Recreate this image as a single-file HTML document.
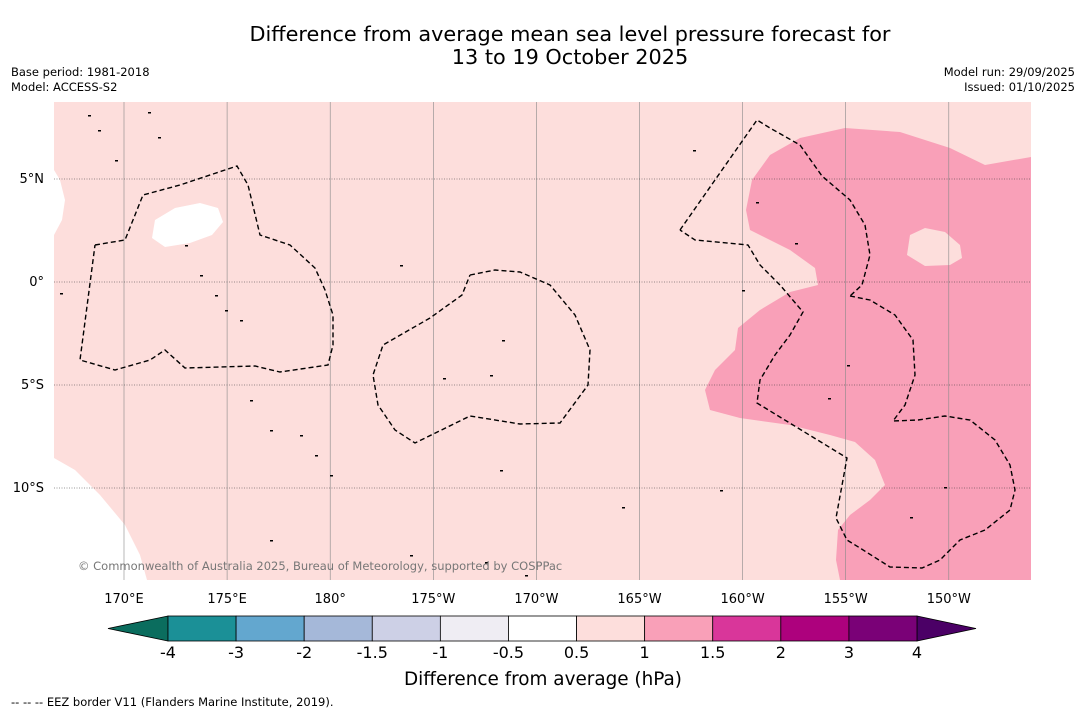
<!DOCTYPE html>
<html><head><meta charset="utf-8">
<style>
html,body{margin:0;padding:0;background:#fff;width:1085px;height:713px;overflow:hidden;font-family:"DejaVu Sans","Liberation Sans",sans-serif;}
svg{display:block}
</style></head>
<body>
<svg id="chart" width="1085" height="713" xmlns="http://www.w3.org/2000/svg" font-family="DejaVu Sans, Liberation Sans, sans-serif">
<text x="570" y="41" font-size="20.8" text-anchor="middle">Difference from average mean sea level pressure forecast for</text>
<text x="570" y="64" font-size="20.8" text-anchor="middle">13 to 19 October 2025</text>
<text x="11" y="76" font-size="11.5">Base period: 1981-2018</text>
<text x="11" y="91" font-size="11.5">Model: ACCESS-S2</text>
<text x="1075" y="76" font-size="11.5" text-anchor="end">Model run: 29/09/2025</text>
<text x="1075" y="91" font-size="11.5" text-anchor="end">Issued: 01/10/2025</text>
<g id="map"></g>
<g id="cbar"></g>
<text x="543" y="685" font-size="18.4" text-anchor="middle">Difference from average (hPa)</text>
<text x="11" y="706" font-size="11.5">--  --  -- EEZ border V11 (Flanders Marine Institute, 2019).</text>
</svg>
<script>
const lonTicks=[170,175,180,185,190,195,200,205,210];
const lonLabels=["170°E","175°E","180°","175°W","170°W","165°W","160°W","155°W","150°W"];
const latTicks=[5,0,-5,-10];
const latLabels=["5°N","0°","5°S","10°S"];
const levels=["-4","-3","-2","-1.5","-1","-0.5","0.5","1","1.5","2","3","4"];
const levelColors=["#1b9097","#63a7cf","#a5b8d9","#cdd0e6","#efedf3","#ffffff","#fddedc","#f9a0b8","#d9369a","#ad017d","#7a0177"];
const extLow="#0b6d5e", extHigh="#4b0066";
const MAP={x0:54,x1:1031,y0:102,y1:580};
const X=lon=>124+(lon-170)*20.62;
const Y=lat=>282-lat*20.6;
const PX=p=>170+(p-124)/20.62, PY=p=>(282-p)/20.6;
const toLL=a=>a.map(([x,y])=>[PX(x),PY(y)]);
const pinkRegion=toLL([[1031,157],[985,165],[950,148],[900,132],[845,128],[800,138],[770,155],[752,180],[746,210],[750,230],[790,250],[815,268],[818,285],[790,292],[760,310],[738,328],[735,350],[715,370],[705,390],[710,410],[740,418],[790,425],[830,435],[855,442],[875,460],[885,485],[870,500],[850,515],[838,530],[836,560],[840,580],[1031,580]]);
const lightBlob=toLL([[910,235],[925,228],[945,232],[960,245],[962,258],[950,265],[925,266],[907,255]]);
const whiteRegions=[toLL([[54,170],[60,180],[65,200],[62,220],[54,235]]),toLL([[155,220],[175,208],[200,203],[218,208],[223,222],[212,235],[190,243],[165,247],[152,238]]),toLL([[54,458],[75,470],[100,495],[125,525],[140,555],[147,580],[54,580]])];
const eez=[toLL([[95,245],[125,240],[143,195],[180,185],[237,166],[248,185],[260,235],[290,245],[315,268],[325,290],[333,315],[333,345],[328,365],[280,372],[255,366],[185,368],[165,350],[150,360],[115,370],[80,360],[95,245]]),
toLL([[470,275],[495,270],[520,272],[550,285],[575,315],[590,350],[588,385],[560,423],[520,424],[470,416],[415,443],[395,430],[378,405],[373,375],[383,345],[430,318],[462,295],[470,275]]),
toLL([[680,230],[757,120],[770,128],[800,145],[822,176],[850,200],[865,225],[870,255],[862,285],[850,296]]),
toLL([[850,296],[870,300],[895,315],[913,340],[915,375],[905,405],[893,421],[918,420],[945,416],[970,420],[995,440],[1010,465],[1015,490],[1010,510],[985,530],[960,540],[940,560],[922,568],[890,567],[860,548],[847,540],[836,518],[847,458],[757,403],[760,380],[775,355],[790,335],[803,312],[780,285],[760,265],[748,245],[695,240],[680,230]])];
const islands=toLL([[88,115],[98,130],[148,112],[158,137],[115,160],[185,245],[200,275],[215,295],[225,310],[240,320],[250,400],[270,430],[300,435],[315,455],[330,475],[400,265],[443,378],[490,375],[502,340],[500,470],[622,507],[693,150],[720,490],[742,290],[756,202],[795,243],[828,398],[847,365],[944,487],[910,517],[60,293],[270,540],[410,555],[485,562],[525,575]]);
const NS="http://www.w3.org/2000/svg";
function mk(tag,attrs,parent){const e=document.createElementNS(NS,tag);for(const k in attrs)e.setAttribute(k,attrs[k]);parent.appendChild(e);return e;}
const map=document.getElementById('map');
const defs=mk('defs',{},map);const cp=mk('clipPath',{id:'clip'},defs);mk('rect',{x:MAP.x0,y:MAP.y0,width:MAP.x1-MAP.x0,height:MAP.y1-MAP.y0},cp);
const g=mk('g',{'clip-path':'url(#clip)'},map);
const pathOf=pts=>'M'+pts.map(p=>X(p[0]).toFixed(1)+','+Y(p[1]).toFixed(1)).join('L')+'Z';
let e=mk('rect',{x:MAP.x0,y:MAP.y0,width:MAP.x1-MAP.x0,height:MAP.y1-MAP.y0,fill:levelColors[6]},g);

e=mk('path',{d:pathOf(pinkRegion),fill:levelColors[7]},g);

e=mk('path',{d:pathOf(lightBlob),fill:levelColors[6]},g);

whiteRegions.forEach(r=>{const w=mk('path',{d:pathOf(r),fill:'#ffffff'},g);

});
lonTicks.forEach((l,i)=>{const ln=mk('line',{x1:X(l),x2:X(l),y1:MAP.y0,y2:MAP.y1,stroke:'#888','stroke-width':0.6},g);


const t=mk('text',{x:X(l),y:603,'font-size':13,'text-anchor':'middle'},map);t.textContent=lonLabels[i];

});
latTicks.forEach((l,i)=>{const ln=mk('line',{x1:MAP.x0,x2:MAP.x1,y1:Y(l),y2:Y(l),stroke:'#333','stroke-width':0.6,'stroke-dasharray':'1,1.5'},g);


const t=mk('text',{x:44,y:Y(l)+4,'font-size':13,'text-anchor':'end'},map);t.textContent=latLabels[i];

});
islands.forEach(p=>{const d=mk('rect',{x:X(p[0]),y:Y(p[1]),width:3,height:1.5,fill:'#000'},g);

});
eez.forEach(r=>{const p=mk('path',{d:'M'+r.map(q=>X(q[0]).toFixed(1)+','+Y(q[1]).toFixed(1)).join('L'),fill:'none',stroke:'#000','stroke-width':1.4,'stroke-dasharray':'5,3'},g);

});
const cr=mk('text',{x:78,y:570,'font-size':11.5,fill:'#777'},map);cr.textContent='© Commonwealth of Australia 2025, Bureau of Meteorology, supported by COSPPac';


const cb=document.getElementById('cbar');
const cx0=168,cx1=917,cy=616,ch=25,n=levels.length-1,w=(cx1-cx0)/n;
let t=mk('path',{d:`M${cx0},${cy}L108,${cy+ch/2}L${cx0},${cy+ch}Z`,fill:extLow,stroke:'#000','stroke-width':0.8},cb);

t=mk('path',{d:`M${cx1},${cy}L976,${cy+ch/2}L${cx1},${cy+ch}Z`,fill:extHigh,stroke:'#000','stroke-width':0.8},cb);

levelColors.forEach((c,i)=>{const r=mk('rect',{x:cx0+i*w,y:cy,width:w,height:ch,fill:c,stroke:'#000','stroke-width':0.8},cb);

});
levels.forEach((l,i)=>{const tx=mk('text',{x:cx0+i*w,y:658,'font-size':16,'text-anchor':'middle'},cb);tx.textContent=l;

});
</script>
</body></html>
